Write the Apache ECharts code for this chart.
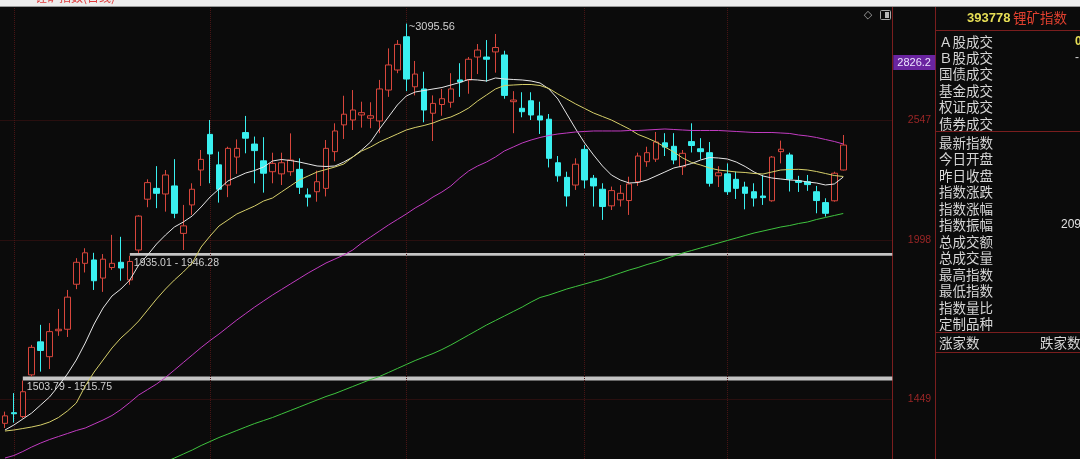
<!DOCTYPE html>
<html lang="zh-CN">
<head>
<meta charset="UTF-8">
<title>锂矿指数</title>
<script src="https://cdn.jsdelivr.net/npm/echarts@6.0.0/dist/echarts.min.js"></script>
<style>
  html, body { margin: 0; padding: 0; background: #0b0b0b; }
  #chart { width: 1080px; height: 459px; }
</style>
</head>
<body>
<div id="chart"></div>
<script>
// 日K: [开, 收, 低, 高]
const kline = [
  [1379,1400,1366,1412],[1409,1406,1381,1466],[1398,1470,1393,1503.79],[1521,1608,1515.75,1616],
  [1626,1598,1531,1683],[1578,1660,1539,1689],[1663,1668,1646,1738],[1668,1780,1642,1806],
  [1827,1910,1809,1926],[1906,1947,1871,1965],[1919,1840,1806,1947],[1850,1922,1799,1942],
  [1890,1906,1881,2019],[1910,1888,1840,2011],[1843,1913,1825,1935.01],[1958,2097,1946.28,2101],
  [2170,2244,2135,2259],[2218,2196,2131,2320],[2193,2279,2116,2302],[2229,2109,2088,2353],
  [2025,2056,1958,2145],[2145,2214,2102,2241],[2302,2352,2229,2397],[2474,2378,2241,2547],
  [2326,2214,2155,2389],[2233,2405,2179,2413],[2363,2405,2284,2449],[2483,2455,2381,2568],
  [2426,2394,2241,2463],[2345,2287,2199,2460],[2294,2333,2241,2384],[2284,2336,2233,2384],
  [2294,2349,2275,2479],[2305,2223,2193,2357],[2189,2179,2138,2218],[2203,2248,2159,2299],
  [2218,2405,2182,2446],[2389,2491,2343,2530],[2522,2577,2451,2675],[2547,2599,2496,2706],
  [2573,2585,2508,2643],[2556,2569,2505,2640],[2542,2712,2480,2762],[2706,2847,2669,2944],
  [2818,2968,2800,2994],[3014,2767,2700,3095.56],[2724,2795,2677,2870],[2712,2599,2535,2808],
  [2582,2634,2441,2677],[2628,2659,2569,2712],[2640,2712,2611,2800],[2762,2751,2669,2857],
  [2762,2880,2686,2893],[2893,2934,2795,2970],[2893,2880,2752,2994],[2923,2949,2803,3031],
  [2905,2677,2659,2930],[2643,2652,2480,2700],[2608,2590,2561,2694],[2648,2573,2547,2694],
  [2568,2547,2476,2643],[2551,2357,2314,2578],[2336,2275,2248,2368],[2268,2184,2138,2294],
  [2233,2329,2211,2357],[2400,2256,2218,2421],[2264,2229,2138,2279],[2214,2138,2081,2241],
  [2141,2208,2123,2226],[2167,2196,2138,2233],[2164,2238,2102,2271],[2248,2368,2229,2384],
  [2341,2384,2317,2413],[2353,2436,2340,2486],[2432,2411,2368,2480],[2415,2349,2329,2480],
  [2317,2381,2279,2397],[2438,2419,2385,2530],[2403,2389,2352,2455],[2384,2241,2226,2436],
  [2275,2289,2224,2320],[2284,2203,2189,2333],[2259,2218,2171,2294],[2224,2196,2126,2248],
  [2203,2175,2138,2241],[2184,2177,2145,2279],[2163,2363,2159,2368],[2389,2401,2333,2443],
  [2373,2260,2204,2384],[2252,2245,2202,2275],[2248,2235,2207,2279],[2203,2164,2109,2229],
  [2155,2109,2095,2174],[2163,2287,2159,2294],[2302,2421,2300,2471]
];

// 均线 (白 / 黄 / 紫 / 绿)
const maWhite = [
  1360.5,1374.3,1391,1408,1431,1454.4,1487.1,1523.7,1567.4,1622.2,1685.8,1741.2,1784,1809.5,1842.7,1899.5,
  1938.3,1981.9,2018.3,2051.3,2072.1,2097.5,2136,2179.6,2215.2,2251.4,2269.6,2288.1,2299.7,2316,2344.3,2351.4,
  2346.6,2339.5,2330.1,2320.7,2318.4,2320.7,2339.5,2363.3,2397,2436.2,2501.1,2562.5,2625.5,2673.7,2695.4,2703.6,
  2711.8,2720,2733.8,2747.7,2764.4,2761.7,2756.1,2773,2767.3,2764.4,2761.7,2756.1,2744.9,2711.8,2657.5,2578.1,
  2501.1,2431.2,2372.9,2320.7,2278.8,2255.9,2242.3,2244.5,2255.9,2274.2,2292.7,2311.4,2320.7,2332.4,2349,2361,
  2358.6,2353.8,2339.5,2318.4,2292.7,2274.2,2265,2260.5,2255.9,2253.6,2246.8,2242.3,2233.2,2237.7,2269.6
];
const maYellow = [
  1357.7,1360.5,1364.6,1368.8,1374.3,1382.6,1395.3,1413.8,1436.8,1487.1,1529.8,1567.4,1605.9,1638.7,1665.5,1696.1,
  1734.2,1773.3,1809.5,1842.7,1872.8,1907.2,1970,2014.2,2055.4,2080.5,2106,2123,2140.3,2162,2175.2,2201.8,
  2228.7,2255.9,2274.2,2292.7,2304.3,2316,2330.1,2363.3,2392.2,2411.6,2436.2,2456,2475.9,2496,2508.7,2518.9,
  2531.6,2549.6,2562.5,2583.3,2609.6,2646.8,2679.1,2711.8,2731,2733.8,2736.5,2736.5,2731,2714.5,2684.5,2657.5,
  2630.8,2607,2583.3,2565.1,2547,2524,2501.1,2473.4,2456,2436.2,2411.6,2387.4,2358.6,2337.2,2325.4,2311.4,
  2302,2297.4,2292.7,2290.4,2285.8,2283.4,2292.7,2302,2304.3,2305.2,2302,2295,2285.8,2276.5,2272
];
const maPurple = [
  1285.5,1292.1,1302.6,1314.5,1325.1,1334.5,1342.7,1350.8,1359.1,1366,1377.1,1388.2,1401,1418,1438.3,1460.3,
  1476.6,1493.1,1513,1536,1559.5,1583.3,1607.5,1630.4,1652,1675.6,1699.5,1722,1744.7,1766.1,1787.6,1807.6,
  1827.9,1848.3,1869,1888,1907.2,1922.6,1938.3,1958,1985.9,2010.2,2034.7,2059.6,2082.6,2105.9,2131.6,2153.3,
  2179.6,2201.8,2228.7,2265,2297.4,2320.7,2339.5,2363.3,2392.2,2411.6,2431.2,2446,2458.4,2468.4,2475.9,2480.9,
  2486,2488.5,2491,2491,2491,2491,2493.5,2493.5,2496,2498.5,2501.1,2498.5,2496,2493.5,2493.5,2493.5,
  2493.5,2491,2488.5,2486,2483.4,2483.4,2483.4,2480.9,2478.4,2470.9,2465.9,2458.4,2448.5,2438.6,2426.3
];
const maGreen = [
  null,null,null,null,null,null,null,null,null,null,null,null,null,null,null,null,
  null,null,1275.2,1285.5,1296,1306.5,1318.5,1329.2,1340,1349.4,1359.1,1368.8,1378.4,1386.8,1395.3,1405.2,
  1415.2,1425.2,1435.4,1445.6,1455.9,1464.7,1475.1,1485.6,1496.2,1506.8,1516,1528.3,1540.7,1553.2,1565.8,1577,
  1588.1,1601,1615.7,1632.1,1648.7,1665.5,1682.4,1697.8,1713.3,1729,1744.7,1762.5,1778.6,1787.6,1798.5,1809.5,
  1818.7,1827.9,1837.2,1846.4,1857.7,1869,1880.4,1890,1901.4,1911,1922.6,1934.4,1946.2,1956,1966,1975.9,
  1985.9,1996,2006.1,2016.3,2026.5,2034.7,2042.9,2051.3,2057.5,2065.9,2072.2,2082.6,2091.1,2099.6,2108.1
];

const yTicks = [1449, 1998, 2547];
const monthStarts = [1, 23, 45, 65, 81];
// 缺口: [起始K线, 下沿, 上沿]
const gaps = [[2, 1503.79, 1515.75], [14, 1935.01, 1946.28]];
const peak = [45, 3095.56];
const priceTag = 2826.2;
const panelRows = ['Ａ股成交', 'Ｂ股成交', '国债成交', '基金成交', '权证成交', '债券成交',
  '最新指数', '今日开盘', '昨日收盘', '指数涨跌', '指数涨幅', '指数振幅',
  '总成交额', '总成交量', '最高指数', '最低指数', '指数量比', '定制品种'];

const days = kline.map((_, i) => 'D' + (i + 1));
const RED = '#d8463c', CYAN = '#3af0f0', BG = '#0b0b0b', LINE_RED = '#7a1e1e', GRID_RED = '#481515';
const CJK = '"Noto Sans CJK SC", sans-serif';

const chart = echarts.init(document.getElementById('chart'), null, { renderer: 'canvas' });

// 背景网格 + 坐标刻度 (画在K线下面)
const gridLines = [];
yTicks.forEach(v => gridLines.push({
  yAxis: v,
  lineStyle: { color: GRID_RED, type: 'dotted', width: 1 },
  label: { show: true, position: 'end', distance: 15.5, formatter: String(v), color: '#9a2626', fontSize: 10.5, fontFamily: 'Arial' }
}));
monthStarts.forEach(i => gridLines.push({
  xAxis: i,
  lineStyle: { color: GRID_RED, type: 'dotted', width: 1 },
  label: { show: false }
}));

const markAreas = gaps.map(g => [
  {
    xAxis: g[0], yAxis: g[1],
    label: { show: true, position: [4, 5], formatter: g[1] + ' - ' + g[2], color: '#cfcfcf', fontSize: 10.5, fontFamily: 'Arial' }
  },
  { yAxis: g[2] }
]);

const panelGraphics = [];
panelRows.forEach((t, i) => {
  const yc = i < 6 ? 41.5 + i * 16.4 : 142.7 + (i - 6) * 16.5;
  panelGraphics.push({
    type: 'text', x: 939, y: yc,
    style: { text: t, fill: '#d6d6d6', font: '13.5px ' + CJK, textVerticalAlign: 'middle' }
  });
});

chart.setOption({
  animation: false,
  backgroundColor: BG,
  grid: { left: 0.5, right: 187.7, top: 6, bottom: 0, containLabel: false },
  xAxis: {
    type: 'category', data: days, max: 99, boundaryGap: true,
    axisLine: { show: false }, axisTick: { show: false }, axisLabel: { show: false }, splitLine: { show: false }
  },
  yAxis: {
    type: 'log', logBase: 10, min: 1283, max: 3207.5, position: 'right',
    axisLine: { show: true, lineStyle: { color: LINE_RED, width: 1 } },
    axisTick: { show: false }, axisLabel: { show: false }, splitLine: { show: false }
  },
  series: [
    {
      name: 'grid', type: 'line', z: 1, data: days.map(() => null), symbol: 'none', silent: true,
      markLine: { z: 1, silent: true, symbol: ['none', 'none'], data: gridLines }
    },
    {
      name: '锂矿指数', type: 'candlestick', z: 3, data: kline, barWidth: 6,
      itemStyle: { color: BG, color0: CYAN, borderColor: RED, borderColor0: CYAN, borderWidth: 1 },
      markLine: {
        silent: true, symbol: ['none', 'none'],
        data: [{
          yAxis: priceTag,
          lineStyle: { color: 'rgba(0,0,0,0)', width: 0 },
          label: {
            show: true, position: 'end', distance: 1, formatter: String(priceTag),
            color: '#ece4ff', backgroundColor: '#6a24a0', fontSize: 11, fontFamily: 'Arial',
            padding: [2, 4, 2, 4], width: 34, offset: [0, -6]
          }
        }]
      },
      markArea: { silent: true, itemStyle: { color: '#c4c4c4' }, data: markAreas },
      markPoint: {
        symbol: 'circle', symbolSize: 1, itemStyle: { color: 'rgba(0,0,0,0)' },
        data: [{
          coord: peak,
          label: { show: true, position: [3, -2], formatter: '~' + peak[1], color: '#d0d0d0', fontSize: 11, fontFamily: 'Arial' }
        }]
      }
    },
    { name: 'MA1', type: 'line', z: 4, data: maWhite, symbol: 'none', lineStyle: { color: '#e6e6e6', width: 1 } },
    { name: 'MA2', type: 'line', z: 4, data: maYellow, symbol: 'none', lineStyle: { color: '#d6cf6a', width: 1 } },
    { name: 'MA3', type: 'line', z: 4, data: maPurple, symbol: 'none', lineStyle: { color: '#c23cc2', width: 1 } },
    { name: 'MA4', type: 'line', z: 4, data: maGreen, symbol: 'none', lineStyle: { color: '#3fc43f', width: 1 } }
  ],
  graphic: [
    { type: 'rect', shape: { x: 0, y: 0, width: 1080, height: 6 }, style: { fill: '#ededed' }, z: 100 },
    { type: 'line', shape: { x1: 0, y1: 6.5, x2: 1080, y2: 6.5 }, style: { stroke: '#9a9a9a', lineWidth: 1 }, z: 100 },
    { type: 'text', x: 35, y: 3, z: 101, style: { text: '锂矿指数(日线)', fill: '#e03a3a', font: '12px ' + CJK, textVerticalAlign: 'bottom' } },
    { type: 'text', x: 868, y: 15, z: 101, style: { text: '◇', fill: '#a8a8a8', font: '11px "DejaVu Sans"', textAlign: 'center', textVerticalAlign: 'middle' } },
    { type: 'rect', shape: { x: 880.5, y: 10.5, width: 10, height: 9, r: 1 }, style: { fill: 'none', stroke: '#a8a8a8', lineWidth: 1 }, z: 101 },
    { type: 'rect', shape: { x: 885, y: 12, width: 4, height: 6 }, style: { fill: '#b8b8b8' }, z: 101 },
    // 右侧信息栏
    { type: 'line', shape: { x1: 935.5, y1: 6, x2: 935.5, y2: 459 }, style: { stroke: LINE_RED, lineWidth: 1 } },
    { type: 'line', shape: { x1: 936, y1: 30.5, x2: 1080, y2: 30.5 }, style: { stroke: LINE_RED, lineWidth: 1 } },
    { type: 'line', shape: { x1: 936, y1: 131.5, x2: 1080, y2: 131.5 }, style: { stroke: LINE_RED, lineWidth: 1 } },
    { type: 'line', shape: { x1: 936, y1: 332.5, x2: 1080, y2: 332.5 }, style: { stroke: LINE_RED, lineWidth: 1 } },
    { type: 'line', shape: { x1: 936, y1: 352.5, x2: 1080, y2: 352.5 }, style: { stroke: LINE_RED, lineWidth: 1 } },
    { type: 'text', x: 967, y: 18, style: { text: '393778', fill: '#e6de55', font: 'bold 13px Arial', textVerticalAlign: 'middle' } },
    { type: 'text', x: 1013, y: 18, style: { text: '锂矿指数', fill: '#e0402f', font: '13.5px ' + CJK, textVerticalAlign: 'middle' } },
    { type: 'text', x: 939, y: 342.5, style: { text: '涨家数', fill: '#d6d6d6', font: '13.5px ' + CJK, textVerticalAlign: 'middle' } },
    { type: 'text', x: 1040, y: 342.5, style: { text: '跌家数', fill: '#d6d6d6', font: '13.5px ' + CJK, textVerticalAlign: 'middle' } },
    { type: 'text', x: 1075, y: 41.5, style: { text: '0', fill: '#e6de55', font: 'bold 12px Arial', textVerticalAlign: 'middle' } },
    { type: 'text', x: 1075, y: 58, style: { text: '-', fill: '#d6d6d6', font: '12px Arial', textVerticalAlign: 'middle' } },
    { type: 'text', x: 1061, y: 224.5, style: { text: '209', fill: '#e0e0e0', font: '12px Arial', textVerticalAlign: 'middle' } }
  ].concat(panelGraphics)
});
</script>
</body>
</html>
